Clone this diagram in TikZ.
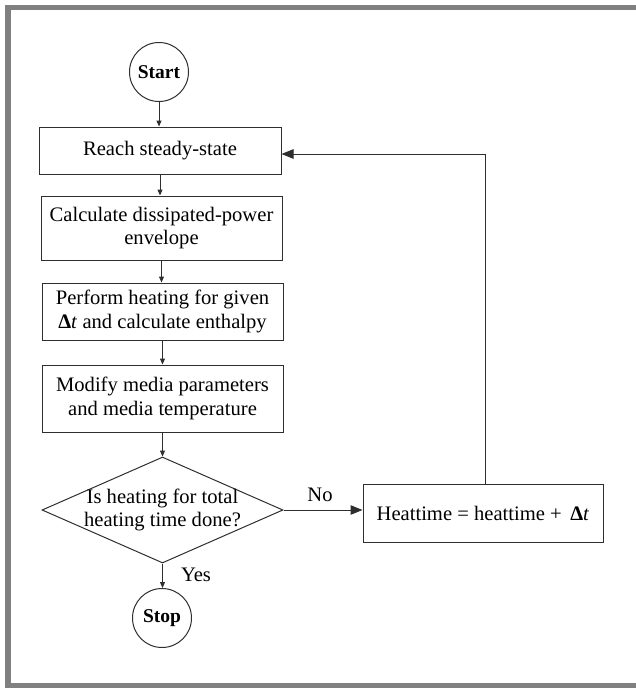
\documentclass[tikz,border=0pt]{standalone}
\usepackage{fontspec}
\setmainfont{Liberation Serif}
\usetikzlibrary{arrows.meta,shapes.geometric}
\definecolor{ln}{HTML}{2E2E2E}
\definecolor{framegray}{HTML}{808080}
\tikzset{
  box/.style={draw=ln, line width=1pt, inner sep=0pt, align=center,
    font=\fontsize{20.6pt}{23.5pt}\selectfont},
  term/.style={circle, draw=ln, line width=1pt, minimum size=59pt, inner sep=0pt,
    font=\fontsize{19.5pt}{22pt}\selectfont\bfseries},
  arr/.style={draw=ln, line width=1pt, -{Triangle[length=6pt,width=5pt]}},
  bigarr/.style={draw=ln, line width=1pt, -{Triangle[length=12pt,width=9.5pt]}},
  lbl/.style={font=\fontsize{20.6pt}{23.5pt}\selectfont, inner sep=0pt, align=center}
}
\begin{document}
\begin{tikzpicture}[x=1pt,y=-1pt]
\useasboundingbox (0,0) rectangle (636,689);
% frame (top, left, bottom)
\draw[framegray, line width=5.5pt, line join=miter] (636,7.5) -- (8,7.5) -- (8,685.5) -- (636,685.5);

\node[term] (start) at (159,72) {Start};
\node[box, minimum width=242pt, minimum height=47pt] (reach) at (160,150.5) {Reach steady-state};
\node[box, minimum width=241pt, minimum height=64pt] (calc) at (161.5,228) {Calculate dissipated-power\\envelope};
\node[box, minimum width=241pt, minimum height=57pt] (perf) at (162.5,311.5) {Perform heating for given\\\textbf{Δ}\textit{t} and calculate enthalpy};
\node[box, minimum width=241pt, minimum height=67pt] (mod) at (162.5,398.5) {Modify media parameters\\and media temperature};
\node[diamond, draw=ln, line width=1pt, minimum width=241pt, minimum height=106pt, inner sep=0pt] (dia) at (162.5,510) {};
\node[lbl] (diatext) at (dia.center) {Is heating for total\\heating time done?};
\node[term] (stop) at (162,618) {Stop};
\node[box, minimum width=240pt, minimum height=58pt] (heat) at (483,513) {Heattime = heattime + \,\textbf{Δ}\textit{t}};

\coordinate (turn) at (485,154);

\draw[arr] (start.south) -- (start.south |- reach.north);
\draw[arr] (reach.south) -- (reach.south |- calc.north);
\draw[arr] (calc.south) -- (calc.south |- perf.north);
\draw[arr] (perf.south) -- (perf.south |- mod.north);
\draw[arr] (mod.south) -- (mod.south |- dia.north);
\draw[arr] (dia.south) -- (dia.south |- stop.north);
\draw[bigarr] (dia.east) -- (dia.east -| heat.west);
\draw[bigarr] (turn |- heat.north) -- (turn) -- (turn -| reach.east);

\node[lbl] (no) at (320,495) {No};
\node[lbl] (yes) at (196,575) {Yes};
\end{tikzpicture}
\end{document}
